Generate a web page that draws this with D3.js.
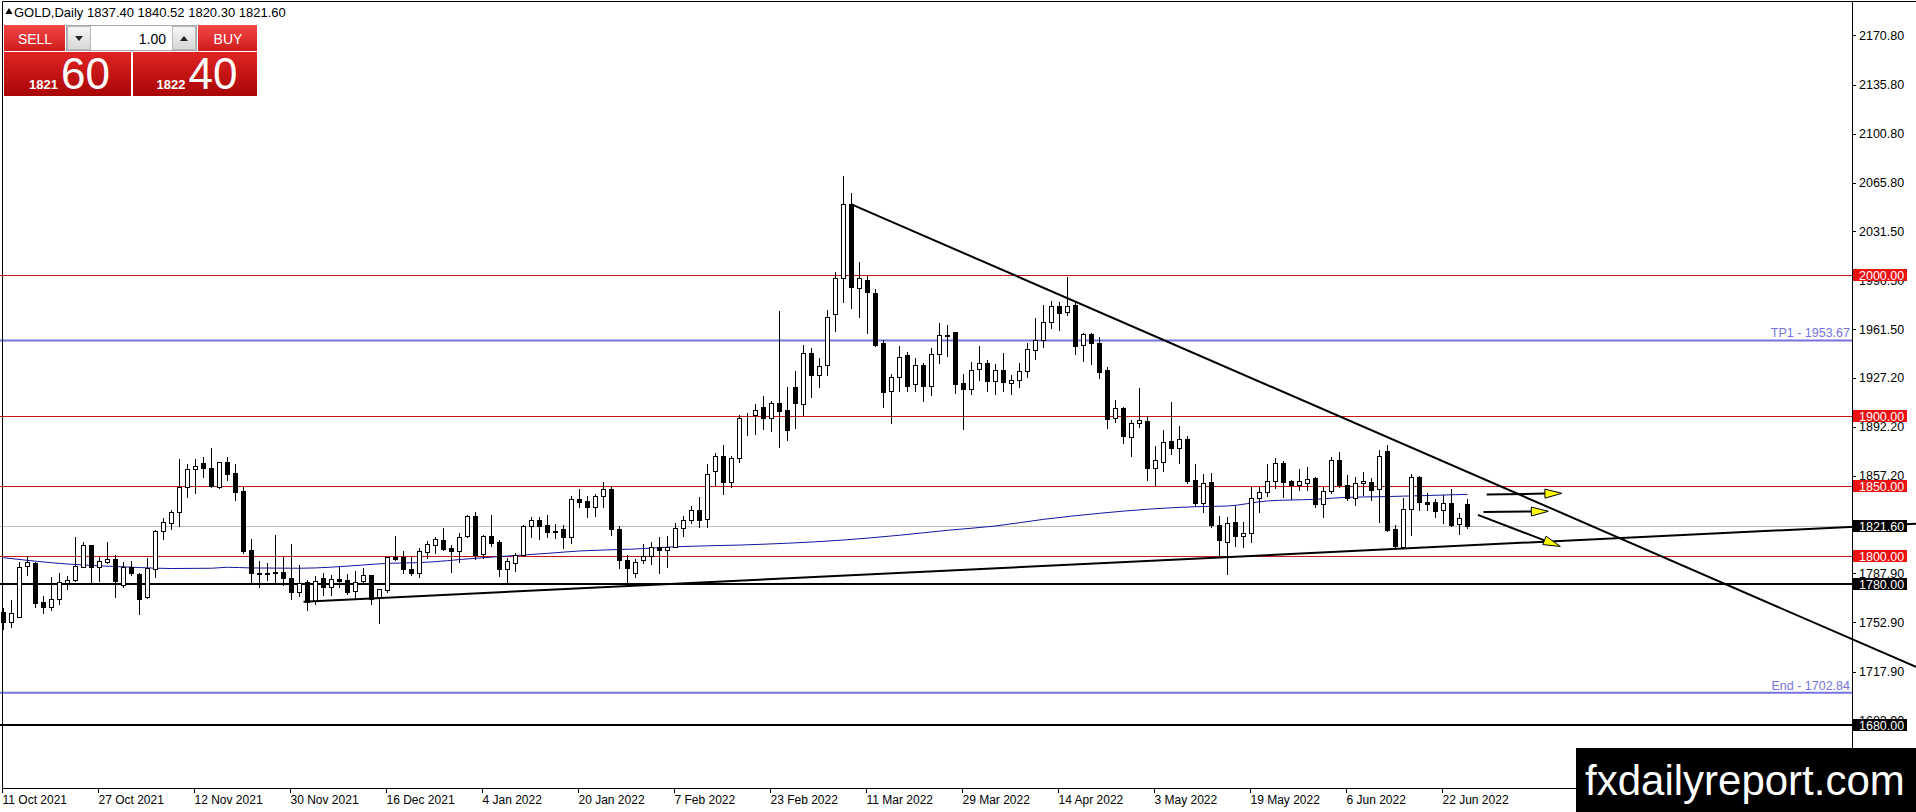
<!DOCTYPE html>
<html>
<head>
<meta charset="utf-8">
<script src="https://cdn.jsdelivr.net/npm/d3@7"></script>
<style>
  body { margin: 0; background: #fff; overflow: hidden; }
  svg { display: block; }
</style>
</head>
<body>
<div id="chart"></div>
<script>
const symbol = 'GOLD';
const period = 'Daily';

// daily candles, bar 0 = 11 Oct 2021
const opens = [1760.4,1753.5,1757.0,1793.1,1795.5,1767.3,1764.1,1769.4,1781.2,1783.1,1792.6,1807.8,1792.6,1796.2,1798.3,1779.6,1792.2,1787.2,1770.8,1790.7,
  1818.2,1823.5,1831.7,1849.1,1861.9,1866.2,1862.6,1849.5,1866.9,1859.1,1846.5,1804.5,1788.3,1787.7,1788.5,1788.8,1784.8,1774.8,1781.5,1768.2,
  1784.3,1778.4,1783.6,1783.1,1775.3,1782.6,1786.7,1770.8,1776.0,1799.7,1799.7,1790.7,1788.3,1803.3,1808.0,1811.6,1805.9,1804.0,1814.5,1828.7,
  1801.6,1814.5,1810.2,1790.7,1795.5,1800.9,1821.6,1825.8,1822.3,1818.0,1819.2,1813.5,1840.6,1839.4,1834.9,1842.9,1847.9,1819.2,1797.4,1787.9,
  1797.4,1800.4,1806.4,1804.5,1806.8,1819.9,1825.8,1833.0,1826.3,1860.9,1871.4,1853.1,1869.8,1898.5,1900.6,1906.1,1898.2,1908.9,1904.1,1920.3,
  1908.2,1944.9,1929.0,1936.2,1972.5,1997.9,2050.5,1990.7,1996.7,1987.2,1951.6,1917.9,1927.4,1943.3,1922.5,1936.0,1921.5,1943.8,1957.7,1959.4,
  1923.1,1919.1,1933.1,1937.8,1925.0,1932.6,1923.6,1925.5,1931.9,1946.8,1954.0,1966.8,1978.2,1973.7,1978.9,1950.2,1958.2,1951.6,1932.6,1898.2,
  1905.8,1885.1,1894.7,1896.3,1862.6,1867.3,1882.1,1876.9,1883.5,1854.3,1837.7,1853.1,1822.3,1810.4,1824.2,1814.7,1816.4,1841.3,1845.6,1853.6,
  1866.6,1853.6,1850.7,1852.4,1855.5,1837.0,1846.5,1868.6,1850.7,1841.3,1852.0,1853.1,1847.7,1875.2,1819.2,1806.8,1833.5,1856.7,1838.9,1838.9,
  1833.0,1837.7,1822.8,1837.40];
const highs = [1763,1769,1796.2,1800,1796,1772,1785,1788,1786,1813.5,1810,1808,1799.3,1810.4,1801,1795.7,1797,1788,1798.6,1818.5,
  1827,1833,1869,1865.7,1869,1870.5,1876.9,1867.3,1870.5,1865.5,1849.5,1812,1796.7,1795.5,1815.2,1799.7,1808.8,1794.1,1783.1,1786,
  1787.9,1786.7,1792.6,1787.4,1789.8,1791.5,1787,1777,1799.7,1814.5,1804,1799.7,1805.7,1811.1,1814,1819.9,1808,1816.8,1829.4,1831.7,
  1815.2,1829.4,1811.6,1798.6,1802.1,1822.3,1828.2,1828.2,1829.4,1823,1822.3,1842.9,1847.7,1842.9,1844.3,1853.1,1850.3,1821.6,1801,1797.9,
  1808.8,1810.4,1814,1814.5,1823.5,1828.7,1835.8,1842,1865.7,1873.7,1879,1871.4,1900.6,1902.2,1908.2,1914.1,1910.8,1974.8,1920.7,1932.1,
  1950.4,1948,1940.9,1975.3,2002.6,2070.7,2058.8,2009.5,1999.5,1990.2,1954,1929.7,1949.7,1945.6,1940.9,1937.8,1948,1965.8,1964.6,1959.9,
  1929.7,1938.5,1949.7,1939.7,1936.9,1944.5,1929,1937.8,1951.6,1969.4,1978.9,1981.7,1981.2,1999,1980.5,1959.2,1959.2,1955.9,1934.5,1911.2,
  1906.5,1897,1920,1899.9,1878.5,1889.9,1910,1892.7,1885.6,1865.7,1858.4,1859.1,1828.7,1828.2,1835.8,1824.2,1849.1,1849.1,1865.7,1869.8,
  1867.8,1854.3,1861.9,1863.8,1856.7,1849.5,1870.9,1874.4,1857.9,1856.2,1860.2,1855.5,1875.7,1879.2,1822.3,1841.3,1858.6,1857.2,1845.3,1840.6,
  1843.6,1847.7,1831,1840.52];
const lows = [1748,1750,1756.6,1786.7,1764,1760,1761.8,1766,1776.5,1782.6,1792.2,1782,1782.6,1795,1771.2,1778.4,1786.7,1758.7,1770,1785,
  1812,1819.4,1821.6,1842.4,1844.8,1856.2,1849.5,1848.8,1854.3,1840,1802,1780.8,1778.4,1783.1,1780.8,1779.6,1769.4,1771.7,1761.8,1766,
  1772.5,1772.5,1778.4,1773.2,1770.1,1780.3,1766,1752.7,1774.8,1797.4,1787.9,1786.7,1785.5,1798.6,1802.6,1804.5,1789,1795.7,1813.5,1797.9,
  1798.6,1807.3,1786,1781.9,1789.8,1800.2,1813.5,1812.1,1814,1812.8,1805.7,1809.7,1835.3,1828.2,1828.7,1834.9,1815.2,1791.5,1779,1785.5,
  1795.5,1794.5,1788.3,1792.2,1806.4,1814.5,1823.9,1821.1,1820.6,1850.7,1844.3,1849.5,1867.3,1886.3,1887,1890.4,1889.4,1878,1882.8,1891.1,
  1900.6,1913.6,1920.8,1929,1960.6,1981.2,1976.5,1970.5,1958.7,1949.7,1906.5,1895.1,1917.9,1917.9,1917.9,1910.7,1914.8,1937.4,1942.6,1916.5,
  1890.4,1915.5,1925.5,1917.9,1915.5,1917.9,1915.3,1920.3,1927.4,1940.2,1949.2,1962.7,1961.1,1971.7,1943.8,1939.2,1936.9,1926.7,1891.1,1895.4,
  1880.9,1871.6,1892.2,1854.3,1850.7,1860.9,1872.6,1866.2,1852,1835.8,1831.7,1821.1,1800.9,1787.4,1807.3,1806.8,1810.4,1831.7,1842.9,1848.4,
  1842.4,1840.6,1847.2,1847.2,1835.3,1828.2,1845.3,1849.1,1840,1836.5,1843.6,1840,1824.6,1818.2,1805.7,1805.7,1815.2,1833,1833,1828.2,
  1823.5,1821.6,1815.9,1820.30];
const closes = [1753.2,1759.4,1792.6,1796.2,1767.0,1764.1,1769.4,1781.5,1783.1,1793.1,1807.8,1792.2,1796.7,1798.3,1782.6,1792.6,1787.9,1769.4,1791.5,1818.0,
  1824.4,1831.3,1849.1,1861.9,1864.3,1862.6,1850.2,1866.9,1858.4,1846.0,1804.0,1788.3,1787.6,1788.2,1787.8,1784.3,1774.4,1781.2,1767.7,1782.6,
  1777.9,1783.6,1782.6,1774.8,1781.9,1786.7,1769.4,1776.5,1799.3,1797.9,1790.7,1788.3,1804.0,1808.5,1812.1,1805.2,1804.0,1814.0,1828.7,1800.9,
  1814.5,1809.7,1790.7,1796.7,1800.9,1821.6,1825.8,1821.8,1817.5,1817.0,1813.5,1840.6,1838.9,1834.9,1842.9,1847.9,1819.2,1797.5,1791.5,1796.2,
  1800.4,1806.4,1804.5,1806.8,1819.9,1825.8,1833.0,1825.8,1858.6,1871.4,1853.1,1869.8,1898.2,1898.7,1904.1,1898.2,1908.9,1903.6,1889.9,1908.9,
  1944.9,1929.0,1935.4,1970.5,1997.9,2050.5,1991.5,1997.9,1988.3,1950.4,1917.2,1927.4,1942.1,1921.3,1936.0,1921.5,1943.8,1957.3,1957.0,1922.4,
  1919.1,1932.8,1937.4,1925.0,1932.6,1924.3,1925.3,1931.9,1947.3,1954.0,1966.8,1978.2,1973.4,1978.4,1949.9,1958.2,1951.6,1931.4,1897.5,1905.3,
  1885.8,1894.7,1897.0,1863.1,1868.5,1881.1,1876.9,1883.3,1853.8,1838.1,1852.0,1822.0,1811.6,1823.5,1814.5,1816.4,1841.7,1846.0,1853.6,1866.6,
  1853.1,1850.7,1853.6,1854.8,1837.0,1846.5,1868.6,1850.7,1841.3,1852.0,1853.6,1847.2,1871.4,1818.7,1807.3,1833.5,1856.7,1838.9,1837.2,1832.5,
  1837.7,1822.1,1827.0,1821.60];

// one date label every 12 bars
const dateLabels = ['11 Oct 2021','27 Oct 2021','12 Nov 2021','30 Nov 2021','16 Dec 2021','4 Jan 2022','20 Jan 2022','7 Feb 2022',
  '23 Feb 2022','11 Mar 2022','29 Mar 2022','14 Apr 2022','3 May 2022','19 May 2022','6 Jun 2022','22 Jun 2022'];
const dateStep = 12;
// 1822.20 sits fully under the bid box, so it is left out
const priceTicks = [2170.8,2135.8,2100.8,2065.8,2031.5,1996.5,1961.5,1927.2,1892.2,1857.2,1787.9,1752.9,1717.9,1682.9];

// moving average
const maBars = [0,4,8,12,17,21,26,28,31,37,45,48,52,59,63,68,72,79,84,92,98,105,112,118,124,130,137,143,149,153,158,164,168,172,177,183];
const maValues = [1799,1796.5,1794.5,1793.2,1792,1791.3,1791.5,1792.2,1791.7,1791.5,1793.8,1795,1795.5,1798.6,1800.2,1802.1,1803.8,1805.2,
  1806.8,1808,1809.3,1811.6,1815,1818.5,1821.6,1826.3,1830.6,1833.5,1835.3,1835.8,1839.4,1840.6,1842,1842.4,1843.1,1844.1];

const redLevels = [2000, 1900, 1850, 1800];
const blackLevels = [1780, 1680];
const targetNames = ['TP1', 'End'];
const targetPrices = [1953.67, 1702.84];
const bid = 1821.60;
const ask = 1822.40;
const lots = 1.00;

// [bar, price] anchors
const downTrend = [[106, 2050.5], [184, 1857.5]];
const upTrend = [[37.5, 1767.7], [184, 1808]];
const arrows = [
  [[185.4, 1844.0], [194.8, 1844.8]],
  [[185.0, 1831.5], [193.1, 1832.0]],
  [[184.3, 1829.5], [194.6, 1807.0]]
];

const width = 1916, height = 812;
const plotRight = 1852, plotTop = 1, plotBottom = 788;

const x = d3.scaleLinear().domain([0, 1]).range([3.5, 11.5]);
const y = d3.scaleLinear().domain([1800, 2000]).range([556.3, 275.3]);
const crisp = v => Math.round(v) + 0.5;
const font = "'Liberation Sans', Arial, sans-serif";

const svg = d3.select('#chart').append('svg')
  .attr('width', width).attr('height', height)
  .style('font-family', font);

const defs = svg.append('defs');
function gradient(id, top, bottom) {
  const g = defs.append('linearGradient').attr('id', id).attr('x1', 0).attr('y1', 0).attr('x2', 0).attr('y2', 1);
  g.append('stop').attr('offset', '0%').attr('stop-color', top);
  g.append('stop').attr('offset', '100%').attr('stop-color', bottom);
}
gradient('btnRed', '#f24848', '#cf1c1c');
gradient('boxRed', '#e02424', '#a80606');
gradient('btnGray', '#f6f6f6', '#d6d6d6');

svg.append('rect').attr('width', width).attr('height', height).attr('fill', '#fff');

const plot = svg.append('g');

// horizontal levels
plot.selectAll('.red-level').data(redLevels).join('line')
  .attr('x1', 0).attr('x2', plotRight)
  .attr('y1', d => crisp(y(d))).attr('y2', d => crisp(y(d)))
  .attr('stroke', '#c81414').attr('stroke-width', 1);

plot.append('line')
  .attr('x1', 0).attr('x2', plotRight)
  .attr('y1', crisp(y(bid))).attr('y2', crisp(y(bid)))
  .attr('stroke', '#c0c0c0').attr('stroke-width', 1);

plot.selectAll('.target-level').data(targetPrices).join('line')
  .attr('x1', 0).attr('x2', plotRight)
  .attr('y1', d => y(d)).attr('y2', d => y(d))
  .attr('stroke', '#7474dc').attr('stroke-width', 2);

plot.selectAll('.target-text').data(targetPrices).join('text')
  .attr('x', plotRight - 2).attr('y', d => y(d) - 3)
  .attr('text-anchor', 'end').attr('font-size', 12.5).attr('fill', '#7474dc')
  .text((d, i) => `${targetNames[i]} - ${d.toFixed(2)}`);

plot.selectAll('.black-level').data(blackLevels).join('line')
  .attr('x1', 0).attr('x2', plotRight)
  .attr('y1', d => Math.round(y(d))).attr('y2', d => Math.round(y(d)))
  .attr('stroke', '#000').attr('stroke-width', 2);

// moving average
const maLine = d3.line()
  .x((d, i) => x(maBars[i]))
  .y(d => y(d))
  .curve(d3.curveMonotoneX);
plot.append('path')
  .datum(maValues)
  .attr('fill', 'none').attr('stroke', '#1414a0').attr('stroke-width', 1)
  .attr('d', maLine);

// candles
const candles = plot.append('g');
opens.forEach((o, i) => {
  const c = closes[i];
  const cx = x(i);
  candles.append('line')
    .attr('x1', cx).attr('x2', cx)
    .attr('y1', Math.round(y(highs[i]))).attr('y2', Math.round(y(lows[i])) + 1)
    .attr('stroke', '#000').attr('stroke-width', 1);
  const top = Math.round(y(Math.max(o, c)));
  const bot = Math.round(y(Math.min(o, c)));
  if (c >= o) {
    candles.append('rect')
      .attr('x', cx - 2).attr('y', top + 0.5)
      .attr('width', 4).attr('height', Math.max(0, bot - top))
      .attr('fill', '#fff').attr('stroke', '#000').attr('stroke-width', 1);
  } else {
    candles.append('rect')
      .attr('x', cx - 2.5).attr('y', top)
      .attr('width', 5).attr('height', Math.max(1, bot - top + 1))
      .attr('fill', '#000');
  }
});

// right price axis
const axis = svg.append('g');
axis.selectAll('.tick-mark').data(priceTicks).join('line')
  .attr('x1', plotRight).attr('x2', plotRight + 4)
  .attr('y1', d => crisp(y(d))).attr('y2', d => crisp(y(d)))
  .attr('stroke', '#000');
axis.selectAll('.tick-text').data(priceTicks).join('text')
  .attr('x', plotRight + 7).attr('y', d => y(d) + 4.5)
  .attr('font-size', 12.5).attr('fill', '#000')
  .text(d => d.toFixed(2));

// date axis
const dateBars = dateLabels.map((d, i) => i * dateStep);
axis.selectAll('.date-mark').data(dateBars).join('line')
  .attr('x1', d => x(d) - 1).attr('x2', d => x(d) - 1)
  .attr('y1', plotBottom).attr('y2', plotBottom + 5)
  .attr('stroke', '#000');
axis.selectAll('.date-text').data(dateLabels).join('text')
  .attr('x', (d, i) => x(dateBars[i]) - 1).attr('y', plotBottom + 16)
  .attr('font-size', 12).attr('fill', '#000')
  .text(d => d);

// frame
svg.append('path')
  .attr('d', `M2.5,${plotTop + 0.5}H${plotRight + 0.5}V${plotBottom + 0.5}H2.5Z`)
  .attr('fill', 'none').attr('stroke', '#000').attr('stroke-width', 1);
svg.append('line')
  .attr('x1', plotRight).attr('x2', width).attr('y1', plotTop + 0.5).attr('y2', plotTop + 0.5)
  .attr('stroke', '#000');

// trend lines, extended as rays to the right edge
function ray(pts) {
  const x1 = x(pts[0][0]), y1 = y(pts[0][1]);
  const x2 = x(pts[1][0]), y2 = y(pts[1][1]);
  const t = (width - x1) / (x2 - x1);
  return [[x1, y1], [width, y1 + t * (y2 - y1)]];
}
[downTrend, upTrend].forEach(tl => {
  const seg = ray(tl);
  svg.append('line')
    .attr('x1', seg[0][0]).attr('y1', seg[0][1])
    .attr('x2', seg[1][0]).attr('y2', seg[1][1])
    .attr('stroke', '#000').attr('stroke-width', 2);
});

// arrows with yellow heads
arrows.forEach(a => {
  const x1 = x(a[0][0]), y1 = y(a[0][1]);
  const x2 = x(a[1][0]), y2 = y(a[1][1]);
  const len = Math.hypot(x2 - x1, y2 - y1);
  const ux = (x2 - x1) / len, uy = (y2 - y1) / len;
  const head = 17, half = 4.5;
  const bx = x2 - ux * head, by = y2 - uy * head;
  svg.append('line')
    .attr('x1', x1).attr('y1', y1).attr('x2', bx).attr('y2', by)
    .attr('stroke', '#000').attr('stroke-width', 2);
  svg.append('path')
    .attr('d', `M${x2},${y2}L${bx - uy * half},${by + ux * half}L${bx + uy * half},${by - ux * half}Z`)
    .attr('fill', '#ffff00').attr('stroke', '#000').attr('stroke-width', 1);
});

// price label boxes
const boxes = redLevels.map(p => ({ p, fill: '#ee1111' }))
  .concat([{ p: bid, fill: '#000' }])
  .concat(blackLevels.map(p => ({ p, fill: '#000' })));
const boxG = svg.append('g');
boxG.selectAll('rect').data(boxes).join('rect')
  .attr('x', plotRight + 1).attr('y', d => Math.round(y(d.p)) - 6)
  .attr('width', 54).attr('height', 12)
  .attr('fill', d => d.fill);
boxG.selectAll('text').data(boxes).join('text')
  .attr('x', plotRight + 7).attr('y', d => Math.round(y(d.p)) + 4.5)
  .attr('font-size', 12.5).attr('fill', '#fff')
  .text(d => d.p.toFixed(2));

// header line
const last = opens.length - 1;
svg.append('path')
  .attr('d', d3.symbol(d3.symbolTriangle, 22)())
  .attr('transform', 'translate(9,12)').attr('fill', '#000');
svg.append('text')
  .attr('x', 14).attr('y', 17).attr('font-size', 13).attr('fill', '#000')
  .text(`${symbol},${period}  ${opens[last].toFixed(2)} ${highs[last].toFixed(2)} ${lows[last].toFixed(2)} ${closes[last].toFixed(2)}`);

// one click trading panel
const panel = svg.append('g');
panel.append('rect').attr('x', 4).attr('y', 25).attr('width', 61).attr('height', 26).attr('fill', 'url(#btnRed)');
panel.append('rect').attr('x', 198).attr('y', 25).attr('width', 59).attr('height', 26).attr('fill', 'url(#btnRed)');
panel.append('text').attr('x', 35).attr('y', 43.5).attr('text-anchor', 'middle')
  .attr('font-size', 14).attr('fill', '#fff').text('SELL');
panel.append('text').attr('x', 228).attr('y', 43.5).attr('text-anchor', 'middle')
  .attr('font-size', 14).attr('fill', '#fff').text('BUY');

panel.append('rect').attr('x', 66.5).attr('y', 25.5).attr('width', 130).attr('height', 25)
  .attr('fill', '#fff').attr('stroke', '#a8a8a8');
panel.append('rect').attr('x', 67.5).attr('y', 26.5).attr('width', 23).attr('height', 23)
  .attr('fill', 'url(#btnGray)').attr('stroke', '#b8b8b8');
panel.append('rect').attr('x', 172.5).attr('y', 26.5).attr('width', 23).attr('height', 23)
  .attr('fill', 'url(#btnGray)').attr('stroke', '#b8b8b8');
panel.append('path').attr('d', 'M75,36L83,36L79,41Z').attr('fill', '#222');
panel.append('path').attr('d', 'M180,41L188,41L184,36Z').attr('fill', '#222');
panel.append('text').attr('x', 166).attr('y', 43.5).attr('text-anchor', 'end')
  .attr('font-size', 14).attr('fill', '#000').text(lots.toFixed(2));

const quotes = [{ v: bid, x0: 4, w: 127 }, { v: ask, x0: 133, w: 124 }];
quotes.forEach(q => {
  panel.append('rect').attr('x', q.x0).attr('y', 52).attr('width', q.w).attr('height', 44).attr('fill', 'url(#boxRed)');
  const s = q.v.toFixed(2).split('.');
  const t = panel.append('text').attr('x', q.x0 + q.w / 2 + 2).attr('y', 89)
    .attr('text-anchor', 'middle').attr('fill', '#fff');
  t.append('tspan').attr('font-size', 13).attr('font-weight', 'bold').text(s[0]);
  t.append('tspan').attr('font-size', 44).attr('dx', 3).text(s[1]);
});

// watermark
svg.append('rect').attr('x', 1576).attr('y', 748).attr('width', 340).attr('height', 64).attr('fill', '#000');
svg.append('text').attr('x', 1585).attr('y', 795).attr('font-size', 42).attr('fill', '#fff')
  .text('fxdailyreport.com');
</script>
</body>
</html>
